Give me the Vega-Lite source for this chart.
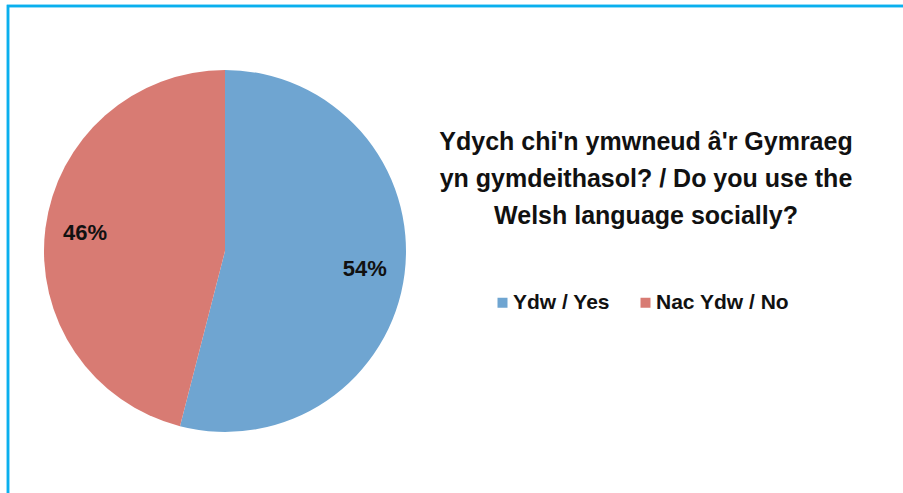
{
  "$schema": "https://vega.github.io/schema/vega-lite/v6.json",
  "width": 362,
  "height": 362,
  "autosize": {"type": "none"},
  "padding": {"left": 44, "top": 70, "right": 497, "bottom": 61},
  "background": "white",
  "config": {"view": {"stroke": null}},
  "title": {
    "text": ["Ydych chi'n ymwneud â'r Gymraeg", "yn gymdeithasol? / Do you use the", "Welsh language socially?"],
    "anchor": "middle",
    "orient": "top",
    "baseline": "top",
    "dx": 421,
    "dy": 228,
    "lineHeight": 37,
    "font": "Liberation Sans",
    "fontSize": 25,
    "fontWeight": "bold",
    "color": "#111111"
  },
  "data": {
    "values": [
      {"answer": "Ydw / Yes", "share": 54, "label": "54%", "rank": 1},
      {"answer": "Nac Ydw / No", "share": 46, "label": "46%", "rank": 2}
    ]
  },
  "layer": [
    {
      "mark": {"type": "rect", "fill": null, "stroke": "#0AB0EE", "strokeWidth": 2.5},
      "encoding": {
        "x": {"value": -36},
        "x2": {"value": 880},
        "y": {"value": -64},
        "y2": {"value": 440}
      }
    },
    {
      "mark": {"type": "arc", "outerRadius": 181, "stroke": null},
      "encoding": {
        "theta": {"field": "share", "type": "quantitative", "stack": true},
        "order": {"field": "rank", "type": "ordinal"},
        "color": {
          "field": "answer",
          "type": "nominal",
          "scale": {"domain": ["Ydw / Yes", "Nac Ydw / No"], "range": ["#6FA5D1", "#D87B73"]},
          "legend": {
            "title": null,
            "orient": "none",
            "direction": "horizontal",
            "legendX": 448,
            "legendY": 222,
            "symbolType": "square",
            "symbolSize": 100,
            "symbolStrokeWidth": 0,
            "labelFont": "Liberation Sans",
            "labelFontSize": 21,
            "labelFontWeight": "bold",
            "labelColor": "#111111",
            "labelOffset": 0,
            "columnPadding": 25
          }
        }
      }
    },
    {
      "mark": {"type": "text", "radius": 141, "font": "Liberation Sans", "fontSize": 22, "fontWeight": "bold", "color": "#111111"},
      "encoding": {
        "theta": {"field": "share", "type": "quantitative", "stack": true},
        "order": {"field": "rank", "type": "ordinal"},
        "text": {"field": "label", "type": "nominal"}
      }
    }
  ]
}
